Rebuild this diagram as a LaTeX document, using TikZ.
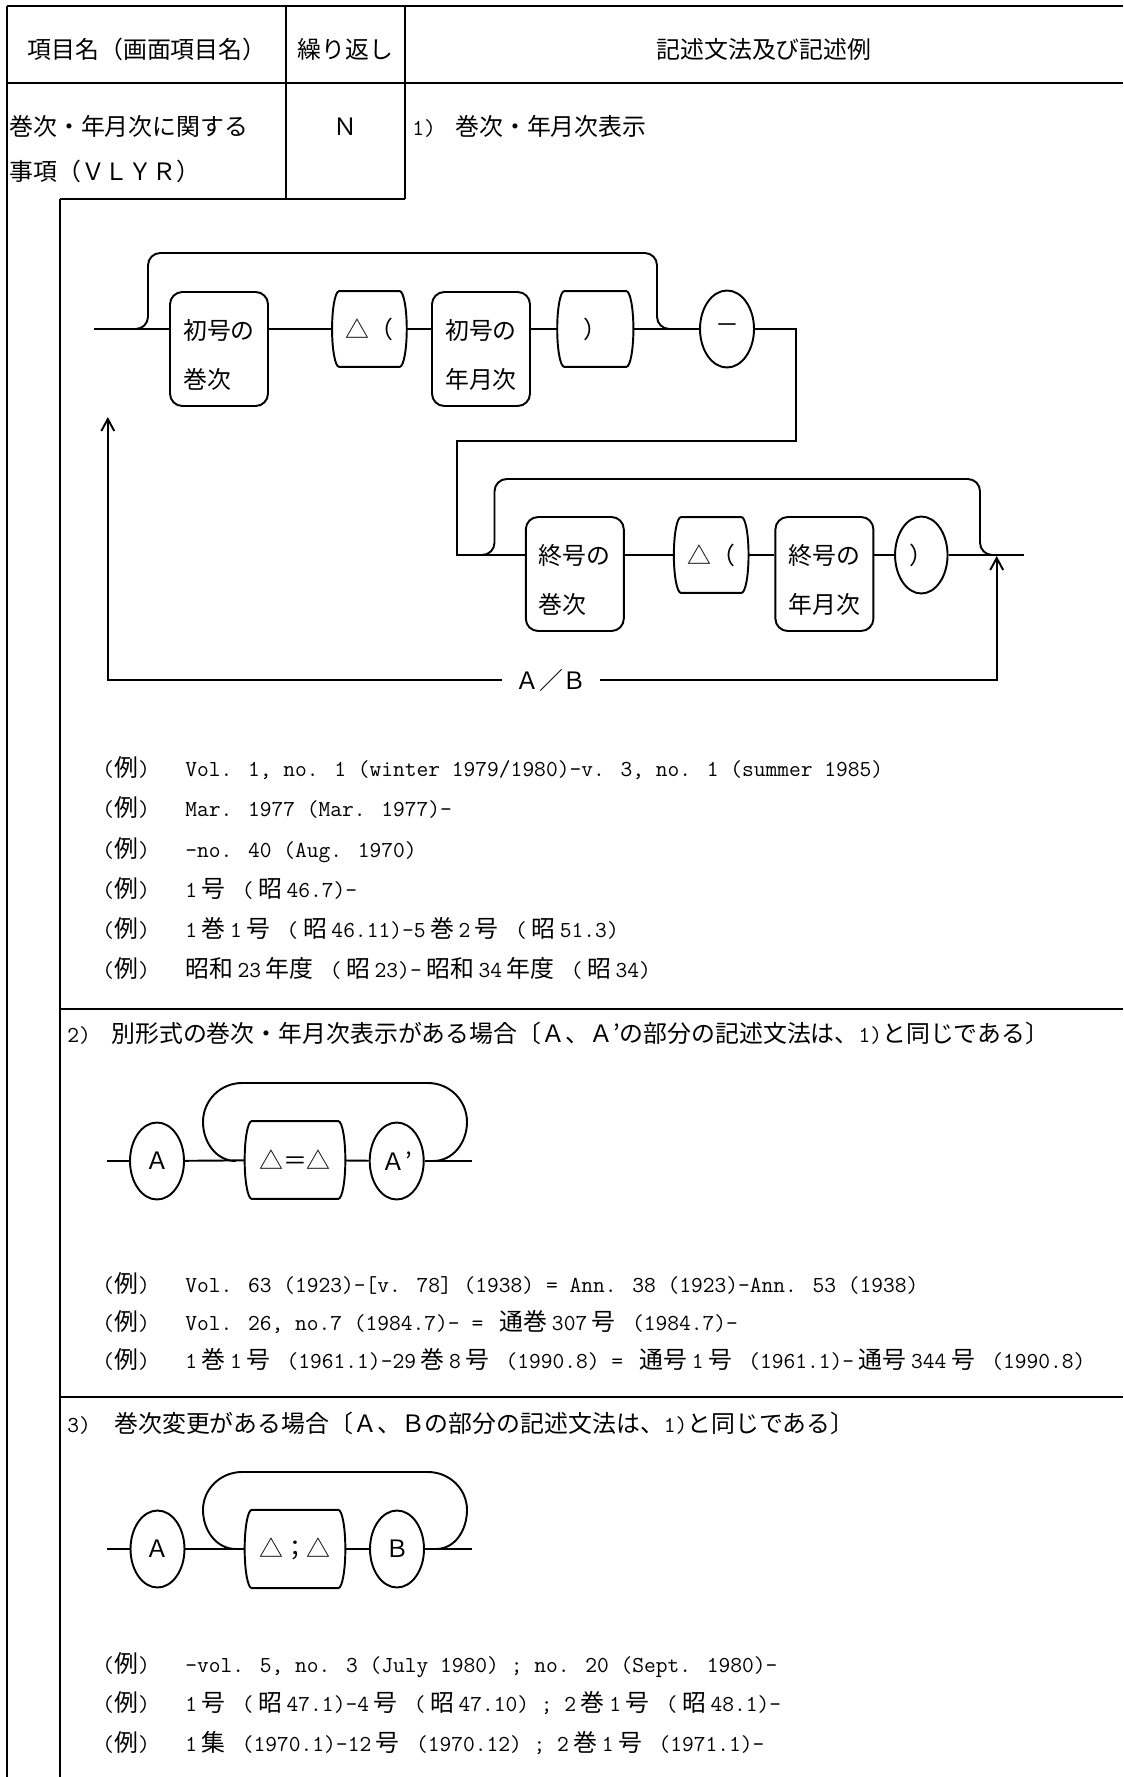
\documentclass[tikz,border=0pt]{standalone}
\usepackage{fontspec}
\newfontfamily\jpfont{Noto Sans CJK JP}
\usetikzlibrary{arrows.meta,shapes.geometric,calc}

\newcommand{\jp}[1]{{\jpfont\fontsize{13.6}{16}\selectfont #1}}
\newcommand{\jj}[1]{\hspace{0.2em}\jp{#1}\hspace{0.2em}}
\newcommand{\mono}[1]{{\ttfamily\fontsize{13}{16}\selectfont #1}}
\newcommand{\topstrut}{\rule{0pt}{18.3pt}}
% barrel-shaped outline round a node
\newcommand{\barrel}[1]{%
  \draw[track] ([xshift=4pt]#1.north west) -- ([xshift=-4pt]#1.north east)
    .. controls ([xshift=-1.8pt]#1.north east) and ($(#1.east)!0.55!(#1.north east)$) .. (#1.east)
    .. controls ($(#1.east)!0.55!(#1.south east)$) and ([xshift=-1.8pt]#1.south east) .. ([xshift=-4pt]#1.south east)
    -- ([xshift=4pt]#1.south west)
    .. controls ([xshift=1.8pt]#1.south west) and ($(#1.west)!0.55!(#1.south west)$) .. (#1.west)
    .. controls ($(#1.west)!0.55!(#1.north west)$) and ([xshift=1.8pt]#1.north west) .. cycle;}

\begin{document}
\begin{tikzpicture}[
  x=0.02cm, y=-0.02cm,
  font=\jpfont\fontsize{13.6}{16}\selectfont,
  rule/.style={line width=1pt},
  track/.style={line width=1.1pt},
  ret/.style={track, -{Straight Barb[length=2.4mm, width=2.6mm]}},
  tallbox/.style={track, draw, rounded corners=7pt, minimum width=1.96cm, minimum height=2.28cm,
    inner sep=0pt, align=left, font=\jpfont\fontsize{13.6}{27.9}\selectfont},
  barrelbox/.style={minimum width=1.48cm, minimum height=1.5cm, inner sep=0pt},
  oval/.style={track, draw, ellipse, minimum width=1.08cm, minimum height=1.54cm, inner sep=0pt},
  lbl/.style={inner sep=0pt, text height=10.4pt, text depth=0pt, anchor=west},
  ex/.style={lbl, font=\ttfamily\fontsize{13}{16}\selectfont}
]
\useasboundingbox (0,0) rectangle (1123,1777);

% table rules
\draw[rule] (7,6) -- (1123,6);
\draw[rule] (7,83) -- (1123,83);
\draw[rule] (7,6) -- (7,1777);
\draw[rule] (286,6) -- (286,199);
\draw[rule] (405,6) -- (405,199);
\draw[rule] (60,199) -- (405,199);
\draw[rule] (60,199) -- (60,1777);
\draw[rule] (60,1009) -- (1123,1009);
\draw[rule] (60,1397) -- (1123,1397);

% header
\node[lbl, anchor=center] (hdName) at (147,49) {項目名（画面項目名）};
\node[lbl, anchor=center] (hdRep) at (345.5,49) {繰り返し};
\node[lbl, anchor=center] (hdSyn) at (764,49) {記述文法及び記述例};
\node[lbl] (itemA) at (9,126) {巻次・年月次に関する};
\node[lbl] (itemB) at (9,171) {事項（ＶＬＹＲ）};
\node[lbl, anchor=center] (repN) at (345.5,126) {Ｎ};
\node[ex] (sec1no) at (412,126) {1)};
\node[lbl] (sec1) at (455,126) {巻次・年月次表示};

% 1) first row
\coordinate (s1) at (94,329);
\node[tallbox] (kanA) at (219,349) {\topstrut 初号の\\巻次};
\node[barrelbox] (parA) at (369.4,329) {△（}; \barrel{parA}
\node[tallbox] (ymA) at (481,349) {\topstrut 初号の\\年月次};
\node[barrelbox, minimum width=1.51cm] (clA) at (595.3,329) {）}; \barrel{clA}
\node[oval] (dash) at (727,329) {－};
\draw[track] (s1) -- (kanA.west |- s1);
\draw[track] (kanA.east |- s1) -- (parA);
\draw[track] (parA) -- (ymA.west |- s1);
\draw[track] (ymA.east |- s1) -- (clA);
\draw[track] (clA) -- (dash);
\coordinate (by1a) at (134,329);
\coordinate (by1b) at (671,329);
\draw[track, rounded corners=7pt] (by1a) -| (148,253) -| (657,329) -- (by1b);

% 1) second row
\coordinate (t1) at (796,329);
\coordinate (t2) at (457,441);
\coordinate (s2) at (457,555);
\node[tallbox] (kanB) at (574.8,574) {\topstrut 終号の\\巻次};
\node[barrelbox] (parB) at (711.2,555) {△（}; \barrel{parB}
\node[tallbox] (ymB) at (824.4,574) {\topstrut 終号の\\年月次};
\node[oval, minimum width=1.05cm] (clB) at (921.3,555) {）};
\coordinate (e2) at (1024,555);
\draw[track] (dash) -- (t1) |- (t2) -- (s2) -- (kanB.west |- s2);
\draw[track] (kanB.east |- s2) -- (parB);
\draw[track] (parB) -- (ymB.west |- s2);
\draw[track] (ymB.east |- s2) -- (clB);
\draw[track] (clB) -- (e2);
\coordinate (by2a) at (480,555);
\coordinate (by2b) at (994,555);
\draw[track, rounded corners=7pt] (by2a) -| (494.5,479) -| (980,555) -- (by2b);

% return A/B
\node[lbl, anchor=center, inner xsep=0.26cm] (ab) at (551,680) {Ａ／Ｂ};
\coordinate (jr) at (996.7,556);
\coordinate (jl) at (107.8,417);
\draw[ret] (ab.east) -| (jr);
\draw[ret] (ab.west) -| (jl);

% 1) examples
\node[ex] (egA1) at (102,767) {(\jp{例})};
\node[ex] (egA2) at (102,807) {(\jp{例})};
\node[ex] (egA3) at (102,848) {(\jp{例})};
\node[ex] (egA4) at (102,888) {(\jp{例})};
\node[ex] (egA5) at (102,928) {(\jp{例})};
\node[ex] (egA6) at (102,968) {(\jp{例})};
\node[ex] (txA1) at (185,767) {Vol. 1, no. 1 (winter 1979/1980)-v. 3, no. 1 (summer 1985)};
\node[ex] (txA2) at (185,807) {Mar. 1977 (Mar. 1977)-};
\node[ex] (txA3) at (185,848) {-no. 40 (Aug. 1970)};
\node[ex] (txA4) at (185,888) {1\jj{号} (\jj{昭}46.7)-};
\node[ex] (txA5) at (185,928) {1\jj{巻}1\jj{号} (\jj{昭}46.11)-5\jj{巻}2\jj{号} (\jj{昭}51.3)};
\node[ex] (txA6) at (185,968) {\jp{昭和}\hspace{0.2em}23\jj{年度} (\jj{昭}23)-\jj{昭和}34\jj{年度} (\jj{昭}34)};

% 2)
\node[ex] (sec2no) at (67,1033) {2)};
\node[lbl] (sec2) at (111,1033) {別形式の巻次・年月次表示がある場合〔Ａ、Ａ’の部分の記述文法は、\mono{1)}と同じである〕};
\coordinate (s3) at (107,1161);
\node[oval] (aa) at (157,1161) {Ａ};
\node[barrelbox, minimum width=2cm, minimum height=1.54cm] (eq) at (295,1160) {△＝△}; \barrel{eq}
\node[oval] (ap) at (396.7,1161) {Ａ’};
\coordinate (e3) at (471.7,1161);
\draw[track] (s3) -- (aa);
\draw[track] (aa) -- (eq);
\draw[track] (eq) -- (ap);
\draw[track] (ap) -- (e3);
\coordinate (lp2a) at (236,1161);
\coordinate (lp2b) at (433,1161);
\draw[track] (lp2a) to[out=180,in=-90] (203,1122) to[out=90,in=180] (242,1083)
  -- (428,1083) to[out=0,in=90] (467,1122) to[out=-90,in=0] (lp2b);

\node[ex] (egB1) at (102,1283) {(\jp{例})};
\node[ex] (egB2) at (102,1321) {(\jp{例})};
\node[ex] (egB3) at (102,1359) {(\jp{例})};
\node[ex] (txB1) at (185,1283) {Vol. 63 (1923)-[v. 78] (1938) = Ann. 38 (1923)-Ann. 53 (1938)};
\node[ex] (txB2) at (185,1321) {Vol. 26, no.7 (1984.7)- = \jj{通巻}307\jj{号} (1984.7)-};
\node[ex] (txB3) at (185,1359) {1\jj{巻}1\jj{号} (1961.1)-29\jj{巻}8\jj{号} (1990.8) = \jj{通号}1\jj{号} (1961.1)-\jj{通号}344\jj{号} (1990.8)};

% 3)
\node[ex] (sec3no) at (67,1423) {3)};
\node[lbl] (sec3) at (114,1423) {巻次変更がある場合〔Ａ、Ｂの部分の記述文法は、\mono{1)}と同じである〕};
\coordinate (s4) at (107,1549);
\node[oval] (ab3) at (157.5,1549) {Ａ};
\node[barrelbox, minimum width=2cm, minimum height=1.55cm] (semi) at (295,1549) {△；△}; \barrel{semi}
\node[oval] (bb) at (397,1549) {Ｂ};
\coordinate (e4) at (471.7,1549);
\draw[track] (s4) -- (ab3);
\draw[track] (ab3) -- (semi);
\draw[track] (semi) -- (bb);
\draw[track] (bb) -- (e4);
\coordinate (lp3a) at (236,1549);
\coordinate (lp3b) at (436,1549);
\draw[track] (lp3a) to[out=180,in=-90] (203,1510) to[out=90,in=180] (242,1472)
  -- (428,1472) to[out=0,in=90] (467,1510) to[out=-90,in=0] (lp3b);

\node[ex] (egC1) at (102,1663) {(\jp{例})};
\node[ex] (egC2) at (102,1702) {(\jp{例})};
\node[ex] (egC3) at (102,1742) {(\jp{例})};
\node[ex] (txC1) at (185,1663) {-vol. 5, no. 3 (July 1980) ; no. 20 (Sept. 1980)-};
\node[ex] (txC2) at (185,1702) {1\jj{号} (\jj{昭}47.1)-4\jj{号} (\jj{昭}47.10) ; 2\jj{巻}1\jj{号} (\jj{昭}48.1)-};
\node[ex] (txC3) at (185,1742) {1\jj{集} (1970.1)-12\jj{号} (1970.12) ; 2\jj{巻}1\jj{号} (1971.1)-};
\end{tikzpicture}
\end{document}
